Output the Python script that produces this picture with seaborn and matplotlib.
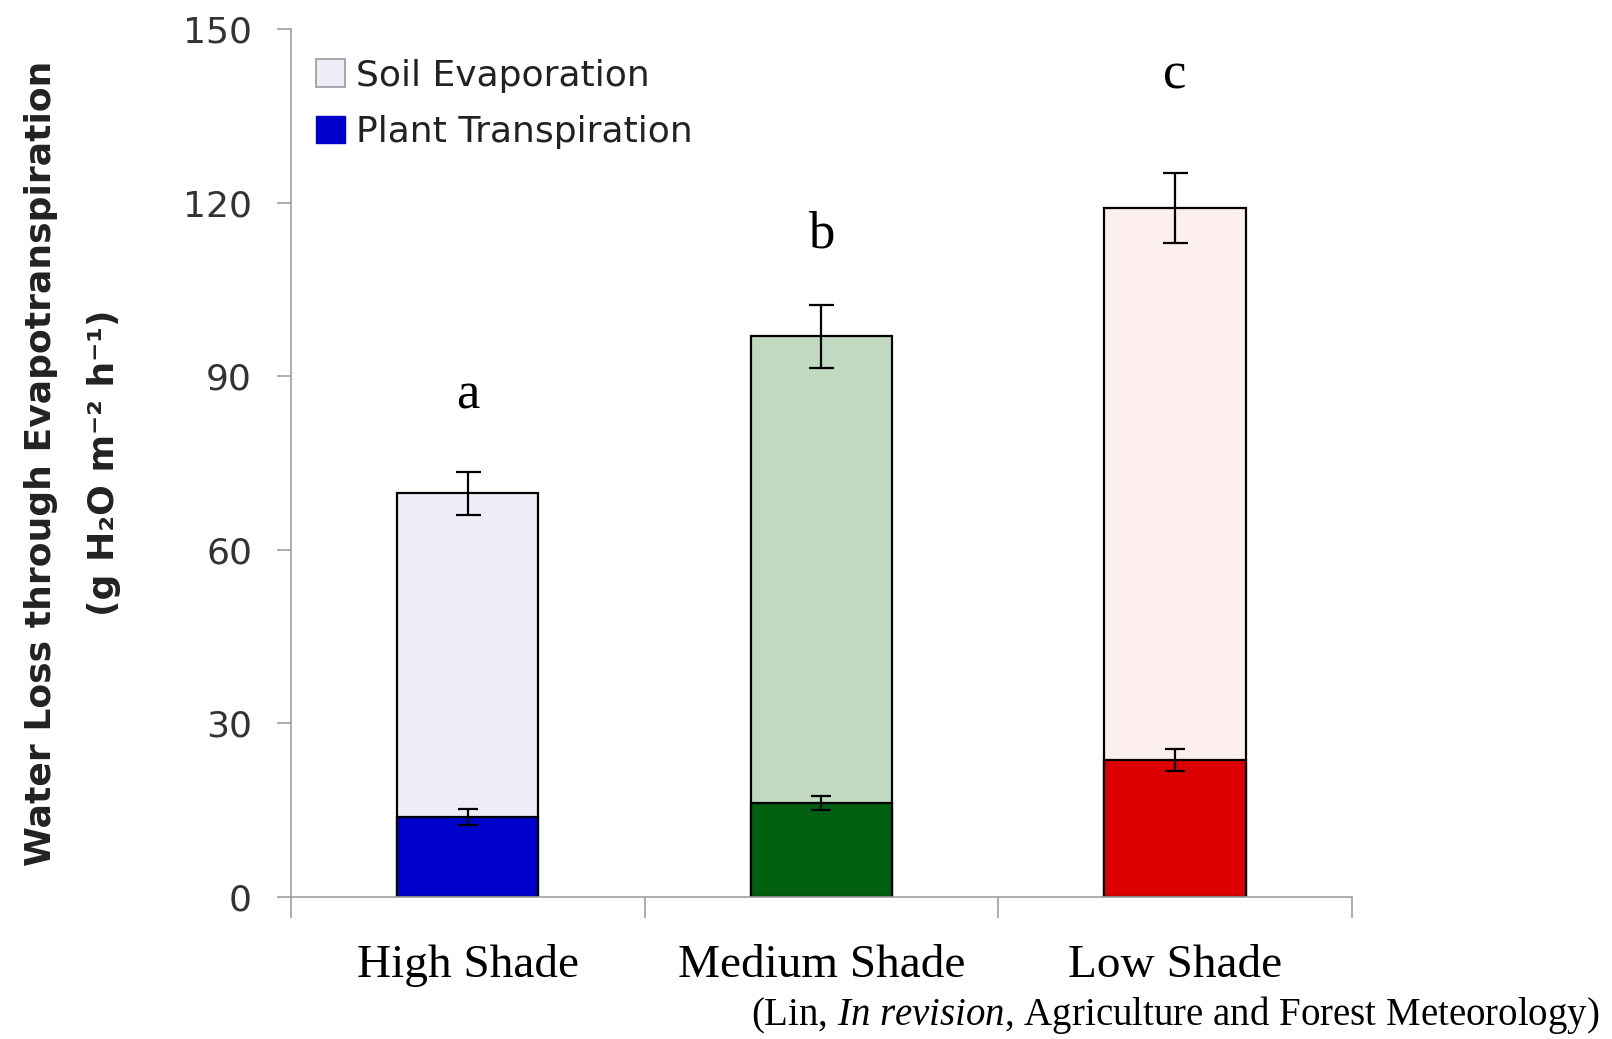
import matplotlib
matplotlib.use("Agg")
import matplotlib.pyplot as plt
import seaborn as sns
import pandas as pd
from matplotlib.patches import Patch

categories = ["High Shade", "Medium Shade", "Low Shade"]
total_et = [69.8, 96.9, 119.1]
total_err = [3.7, 5.4, 6.0]
transpiration = [13.8, 16.2, 23.6]
transp_err = [1.4, 1.2, 1.9]
letters = ["a", "b", "c"]
letter_y = [86.6, 114.5, 142.0]
soil_colors = ["#EEEEF8", "#C0D9C0", "#FDEFEE"]
plant_colors = ["#0000CC", "#006010", "#DD0000"]
yticks = [0, 30, 60, 90, 120, 150]

sns.set_style("white")
plt.rcParams['font.family'] = ['DejaVu Sans']
plt.rcParams['mathtext.fontset'] = 'custom'
plt.rcParams['mathtext.rm'] = 'Liberation Serif'
plt.rcParams['mathtext.it'] = 'Liberation Serif:italic'

df = pd.DataFrame({"cat": categories, "total": total_et, "tr": transpiration})

fig = plt.figure(figsize=(16.12, 10.39), dpi=100)
ax = fig.add_axes([0.1805, 0.1367, 0.658, 0.8353])

sns.barplot(data=df, x="cat", y="total", hue="cat", palette=soil_colors, saturation=1,
            width=0.4, edgecolor="black", linewidth=1.6, legend=False, ax=ax)
sns.barplot(data=df, x="cat", y="tr", hue="cat", palette=plant_colors, saturation=1,
            width=0.4, edgecolor="black", linewidth=1.6, legend=False, ax=ax)

xpos = list(range(len(categories)))
ax.errorbar(xpos, total_et, yerr=total_err, fmt="none", ecolor="black",
            elinewidth=1.6, capsize=9, capthick=1.6, zorder=5)
ax.errorbar(xpos, transpiration, yerr=transp_err, fmt="none", ecolor="black",
            elinewidth=1.6, capsize=7, capthick=1.6, zorder=5)

for x, l, y in zip(xpos, letters, letter_y):
    ax.text(x, y, l, ha="center", va="center", fontsize=38,
            family="Liberation Serif", color="black")

ax.set_xlim(-0.5, 2.5)
ax.set_ylim(0, 150)
ax.set_yticks(yticks)
ax.set_yticklabels([str(v) for v in yticks], fontsize=26, color="#333333")
ax.set_xticks(xpos)
ax.set_xticklabels(categories, fontsize=34, family="Liberation Serif", color="black")
ax.set_xticks([-0.5, 0.5, 1.5, 2.5], minor=True)
ax.tick_params(axis="x", which="major", bottom=True, length=0, pad=34)
ax.tick_params(axis="x", which="minor", bottom=True, length=15, width=1.2, color="#A0A0A0", direction="out")
ax.tick_params(axis="y", which="major", left=True, length=10, width=1.2, color="#A0A0A0",
               direction="out", pad=18)

for s in ["top", "right"]:
    ax.spines[s].set_visible(False)
for s in ["left", "bottom"]:
    ax.spines[s].set_color("#A0A0A0")
    ax.spines[s].set_linewidth(1.2)

ax.set_xlabel("")
ax.set_ylabel("Water Loss through Evapotranspiration\n(g H₂O m⁻² h⁻¹)",
              fontsize=26, fontweight="bold", color="#222222", linespacing=2.1)
ax.yaxis.set_label_coords(-0.16, 0.5)

handles = [Patch(facecolor=soil_colors[0], edgecolor="#999999", linewidth=1.2, label="Soil Evaporation"),
           Patch(facecolor=plant_colors[0], edgecolor=plant_colors[0], label="Plant Transpiration")]
ax.legend(handles=handles, loc="upper left", bbox_to_anchor=(0.0, 0.995), frameon=False,
          fontsize=26, handlelength=0.8, handleheight=0.8, handletextpad=0.3,
          labelspacing=0.62, labelcolor="#222222", borderaxespad=0.3)

fig.text(0.992, 0.003, r"(Lin, $\mathit{In\ revision}$, Agriculture and Forest Meteorology)",
         ha="right", va="bottom", fontsize=28, family="Liberation Serif", color="black")

fig.savefig("out.png", dpi=100)
